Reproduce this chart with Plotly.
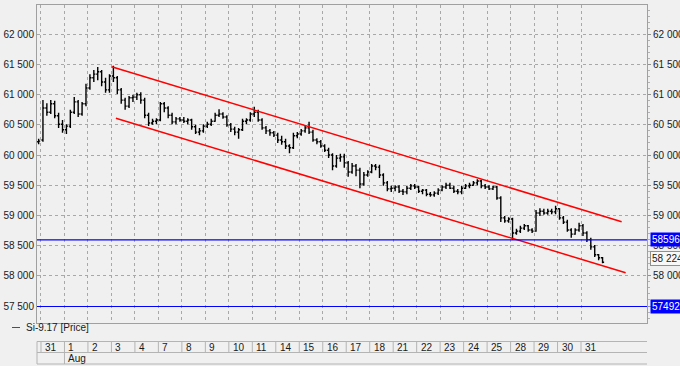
import plotly.graph_objects as go

# ---------------- data ----------------
day_labels = ["31", "1", "2", "3", "4", "7", "8", "9", "10", "11", "14", "15", "16",
              "17", "18", "21", "22", "23", "24", "25", "28", "29", "30", "31"]
month_label = "Aug"
month_start_index = 1
bars_per_day = 6
pre_bar_x = -0.1  # tail of the previous session

open_ = [60220,
         60250, 60780, 60710, 60850, 60650, 60510,
         60420, 60480, 60710, 60880, 60680, 60850,
         61110, 61280, 61340, 61380, 61210, 61080,
         61310, 61280, 61080, 60910, 60810, 60950,
         60960, 61000, 60910, 60660, 60530, 60560,
         60580, 60850, 60780, 60660, 60550, 60600,
         60580, 60560, 60580, 60470, 60380, 60400,
         60480, 60510, 60560, 60660, 60680, 60630,
         60500, 60430, 60380, 60420, 60560, 60580,
         60680, 60710, 60580, 60450, 60400, 60370,
         60330, 60250, 60220, 60150, 60120, 60320,
         60350, 60400, 60450, 60380, 60250, 60220,
         60150, 60080, 60000, 59820, 59950, 59970,
         59870, 59720, 59820, 59750, 59520, 59670,
         59720, 59820, 59800, 59670, 59540, 59440,
         59450, 59470, 59400, 59390, 59450, 59490,
         59470, 59400, 59420, 59350, 59340, 59370,
         59420, 59470, 59500, 59450, 59400, 59390,
         59450, 59490, 59500, 59540, 59570, 59490,
         59470, 59440, 59470, 59290, 58960, 58910,
         58940, 58710, 58740, 58790, 58830, 58760,
         58740, 59040, 59070, 59040, 59070, 59060,
         59110, 58960, 58890, 58760, 58690, 58760,
         58830, 58710, 58600, 58480, 58350, 58300]

high = [60270,
        60910, 60860, 60910, 60900, 60700, 60580,
        60510, 60750, 60960, 60910, 60880, 61180,
        61340, 61410, 61460, 61410, 61280, 61340,
        61480, 61310, 61110, 60950, 60980, 61000,
        61030, 61040, 60950, 60700, 60600, 60610,
        60880, 60880, 60810, 60700, 60630, 60630,
        60630, 60610, 60600, 60500, 60450, 60510,
        60550, 60600, 60700, 60760, 60710, 60660,
        60530, 60470, 60450, 60600, 60610, 60710,
        60800, 60750, 60610, 60480, 60430, 60400,
        60370, 60320, 60270, 60180, 60370, 60380,
        60430, 60480, 60550, 60420, 60280, 60250,
        60180, 60120, 60030, 60000, 60020, 60020,
        59900, 59870, 59850, 59790, 59720, 59750,
        59850, 59850, 59840, 59700, 59570, 59490,
        59500, 59500, 59440, 59490, 59520, 59520,
        59490, 59440, 59440, 59390, 59400, 59450,
        59500, 59540, 59540, 59490, 59440, 59490,
        59520, 59540, 59570, 59600, 59590, 59520,
        59500, 59490, 59490, 59320, 58990, 58970,
        58960, 58780, 58830, 58860, 58840, 58790,
        59090, 59120, 59110, 59110, 59110, 59160,
        59120, 58990, 58930, 58790, 58790, 58880,
        58860, 58740, 58630, 58510, 58360, 58310]

low = [60180,
       60220, 60650, 60680, 60610, 60450, 60370,
       60350, 60450, 60680, 60630, 60650, 60810,
       61080, 61210, 61240, 61140, 61030, 61030,
       61210, 61010, 60850, 60750, 60780, 60880,
       60910, 60850, 60610, 60480, 60500, 60510,
       60560, 60710, 60610, 60510, 60510, 60550,
       60530, 60510, 60420, 60350, 60330, 60370,
       60450, 60480, 60550, 60630, 60600, 60470,
       60380, 60330, 60270, 60400, 60510, 60550,
       60630, 60550, 60420, 60350, 60320, 60300,
       60200, 60170, 60100, 60030, 60100, 60280,
       60320, 60370, 60350, 60220, 60180, 60120,
       60050, 59950, 59750, 59790, 59890, 59790,
       59640, 59690, 59650, 59450, 59490, 59640,
       59700, 59750, 59620, 59490, 59400, 59390,
       59400, 59370, 59340, 59350, 59420, 59440,
       59370, 59350, 59320, 59310, 59310, 59340,
       59400, 59440, 59440, 59370, 59350, 59350,
       59440, 59450, 59490, 59500, 59450, 59440,
       59420, 59420, 59260, 58890, 58880, 58880,
       58596, 58680, 58710, 58760, 58730, 58710,
       58730, 58990, 59010, 59010, 59020, 59020,
       58930, 58860, 58730, 58630, 58680, 58730,
       58660, 58560, 58430, 58310, 58260, 58210]

close = [60230,
         60780, 60710, 60850, 60650, 60510, 60420,
         60480, 60710, 60880, 60680, 60850, 61110,
         61280, 61340, 61380, 61210, 61080, 61310,
         61280, 61080, 60910, 60810, 60950, 60960,
         61000, 60910, 60660, 60530, 60560, 60580,
         60850, 60780, 60660, 60550, 60600, 60580,
         60560, 60580, 60470, 60380, 60400, 60480,
         60510, 60560, 60660, 60680, 60630, 60500,
         60430, 60380, 60420, 60560, 60580, 60680,
         60710, 60580, 60450, 60400, 60370, 60330,
         60250, 60220, 60150, 60120, 60320, 60350,
         60400, 60450, 60380, 60250, 60220, 60150,
         60080, 60000, 59820, 59950, 59970, 59870,
         59720, 59820, 59750, 59520, 59670, 59720,
         59820, 59800, 59670, 59540, 59440, 59450,
         59470, 59400, 59390, 59450, 59490, 59470,
         59400, 59420, 59350, 59340, 59370, 59420,
         59470, 59500, 59450, 59400, 59390, 59450,
         59490, 59500, 59540, 59570, 59490, 59470,
         59440, 59470, 59290, 58960, 58910, 58940,
         58710, 58740, 58790, 58830, 58760, 58740,
         59040, 59070, 59040, 59070, 59060, 59110,
         58960, 58890, 58760, 58690, 58760, 58830,
         58710, 58600, 58480, 58350, 58300, 58224]

# trend channel (day-index, price)
upper_x = [3.01, 24.73]
upper_y = [61463, 58897]
lower_x = [3.19, 24.90]
lower_y = [60609, 58052]

# horizontal levels
level_values = [58596, 57492]
level_labels = ["58596.0", "57492.0"]
last_price = 58224
last_label = "58 224"

y_ticks = [57500, 58000, 58500, 59000, 59500, 60000, 60500, 61000, 61500, 62000]
y_ticktext = ["57 500", "58 000", "58 500", "59 000", "59 500", "60 000",
              "60 500", "61 000", "61 500", "62 000"]
series_name = "Si-9.17 [Price]"

# ---------------- figure ----------------
X_RANGE = [-0.17, 25.81]
Y_RANGE = [57219, 62485]
BG = "#f0f0f0"
GRID = "#a8a8a8"
FONT = "Liberation Sans"
FS = 10
TXT = "#1a1a1a"

x = [pre_bar_x] + [k + (i + 0.5) / bars_per_day
                   for k in range(len(day_labels)) for i in range(bars_per_day)]

fig = go.Figure()
fig.add_trace(go.Ohlc(
    x=x, open=open_, high=high, low=low, close=close,
    increasing=dict(line=dict(color="#000000", width=1.4)),
    decreasing=dict(line=dict(color="#000000", width=1.4)),
    tickwidth=0.4, hoverinfo="skip", showlegend=False))

fig.add_trace(go.Scatter(x=upper_x, y=upper_y, mode="lines",
                         line=dict(color="#ff0000", width=1.5),
                         hoverinfo="skip", showlegend=False))
fig.add_trace(go.Scatter(x=lower_x, y=lower_y, mode="lines",
                         line=dict(color="#ff0000", width=1.5),
                         hoverinfo="skip", showlegend=False))
for v in level_values:
    fig.add_trace(go.Scatter(x=X_RANGE, y=[v, v], mode="lines", yaxis="y2",
                             line=dict(color="#0000ff", width=1.2),
                             hoverinfo="skip", showlegend=False))

PLOT_TOP, PLOT_BOTTOM = 5, 323
PLOT_H = PLOT_BOTTOM - PLOT_TOP


def pyp(py):
    """pixel y (outside plot) -> paper y"""
    return (PLOT_BOTTOM - py) / PLOT_H


def pxp(px):
    return (px - 37) / 610


shapes = []
row_col = "#b4b4b4"
for yy in (341.5, 352.5, 364):
    shapes.append(dict(type="line", xref="paper", yref="paper", x0=0, x1=1,
                       y0=pyp(yy), y1=pyp(yy), line=dict(color=row_col, width=1)))
for k in range(len(day_labels)):
    shapes.append(dict(type="line", xref="x", yref="paper", x0=k, x1=k,
                       y0=pyp(341.5), y1=pyp(352.5), line=dict(color=row_col, width=1)))
shapes.append(dict(type="line", xref="paper", yref="paper", x0=0, x1=0,
                   y0=pyp(341.5), y1=pyp(364), line=dict(color=row_col, width=1)))
shapes.append(dict(type="line", xref="x", yref="paper", x0=month_start_index,
                   x1=month_start_index, y0=pyp(352.5), y1=pyp(364),
                   line=dict(color=row_col, width=1)))
# legend dash
shapes.append(dict(type="line", xref="paper", yref="paper", x0=pxp(12), x1=pxp(20),
                   y0=pyp(327.5), y1=pyp(327.5), line=dict(color="#505050", width=1)))

annotations = []
for k, lab in enumerate(day_labels):
    annotations.append(dict(x=k, xref="x", y=pyp(347), yref="paper", text=lab,
                            showarrow=False, xanchor="left", yanchor="middle",
                            xshift=2, font=dict(family=FONT, size=FS, color=TXT)))
annotations.append(dict(x=month_start_index, xref="x", y=pyp(358.5), yref="paper",
                        text=month_label, showarrow=False, xanchor="left",
                        yanchor="middle", xshift=2,
                        font=dict(family=FONT, size=FS, color=TXT)))
annotations.append(dict(x=pxp(24), xref="paper", y=pyp(327.5), yref="paper",
                        text=series_name, showarrow=False, xanchor="left",
                        yanchor="middle", font=dict(family=FONT, size=FS, color=TXT)))
for v, lab in zip(level_values, level_labels):
    annotations.append(dict(x=pxp(650), xref="paper", y=v, yref="y2", text=lab,
                            showarrow=False, xanchor="left", yanchor="middle",
                            bgcolor="#0000ff", borderpad=1,
                            font=dict(family=FONT, size=FS, color="#ffffff")))
annotations.append(dict(x=pxp(650), xref="paper", y=last_price, yref="y2",
                        text=last_label, showarrow=False, xanchor="left",
                        yanchor="middle", yshift=4, bgcolor="#f8f8f8",
                        bordercolor="#909090", borderwidth=1, borderpad=1,
                        font=dict(family=FONT, size=FS, color=TXT)))

fig.update_layout(
    width=680, height=366,
    margin=dict(l=37, r=33, t=PLOT_TOP, b=366 - PLOT_BOTTOM, autoexpand=False),
    paper_bgcolor=BG, plot_bgcolor=BG,
    showlegend=False,
    font=dict(family=FONT, size=FS, color=TXT),
    xaxis=dict(range=X_RANGE, tickvals=list(range(len(day_labels))),
               showticklabels=False, ticks="", showgrid=True,
               gridcolor=GRID, griddash="dot", gridwidth=1, zeroline=False,
               showline=True, linecolor="#a0a0a0", mirror=True,
               rangeslider=dict(visible=False), fixedrange=True),
    yaxis=dict(range=Y_RANGE, tickvals=y_ticks, ticktext=y_ticktext,
               showgrid=True, gridcolor=GRID, griddash="dot", gridwidth=1,
               zeroline=False, showline=True, linecolor="#a0a0a0", mirror=True,
               ticks="", automargin=False,
               tickfont=dict(family=FONT, size=FS, color=TXT)),
    yaxis2=dict(range=Y_RANGE, overlaying="y", side="right", tickvals=y_ticks,
                ticktext=y_ticktext, showgrid=False, zeroline=False,
                ticks="outside", ticklen=3, tickcolor="#909090", automargin=False,
                minor=dict(dtick=100, ticks="outside", ticklen=2, tickcolor="#b0b0b0"),
                tickfont=dict(family=FONT, size=FS, color=TXT)),
    shapes=shapes, annotations=annotations,
)

fig.write_html("out.html",
               config={"displayModeBar": False, "staticPlot": True},
               post_script="document.body.style.margin='0';"
                           "document.body.style.overflow='hidden';")
